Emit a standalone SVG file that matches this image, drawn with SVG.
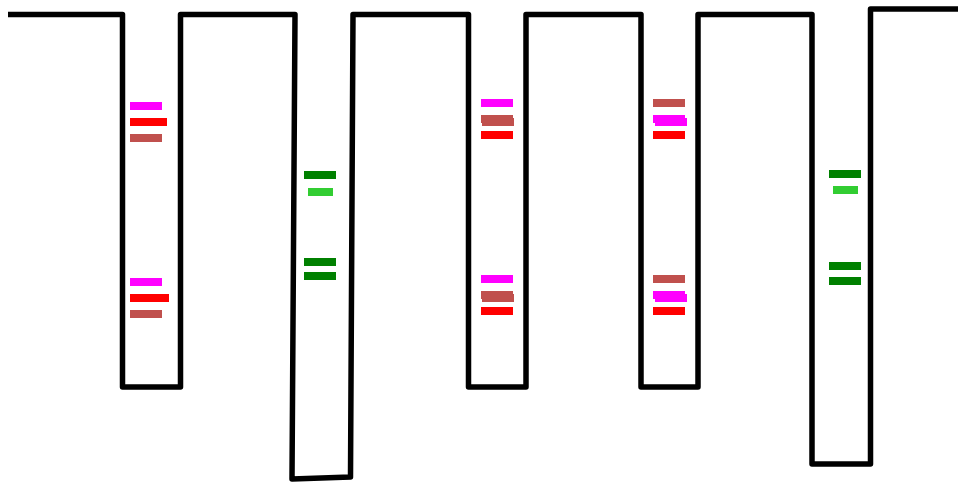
<svg xmlns="http://www.w3.org/2000/svg" width="958" height="482" viewBox="0 0 958 482">
<style>
.outline{fill:none;stroke:#000;stroke-width:5.5;stroke-linejoin:round}
.mg{fill:#FF00FF}.rd{fill:#FF0000}.br{fill:#C0504D}.dg{fill:#008000}.lg{fill:#32CD32}
</style>
<rect width="958" height="482" fill="#fff"/>
<g id="connectors">
<path class="outline" d="M8,14.5 H122.5 V387 H180.5 V14.5 H295 L292,479 L350.5,477 L353,14.5 H468.5 V387 H526 V14.5 H641 V387 H698 V14.5 H812 V464 H870.5 V9 H958"/>
</g>
<g id="well1">
<rect class="mg" x="130" y="102" width="32" height="8"/>
<rect class="rd" x="130" y="118" width="37" height="8"/>
<rect class="br" x="130" y="134" width="32" height="8"/>
<rect class="mg" x="130" y="278" width="32" height="8"/>
<rect class="rd" x="130" y="294" width="39" height="8"/>
<rect class="br" x="130" y="310" width="32" height="8"/>
</g>
<g id="well2">
<rect class="dg" x="304" y="171" width="32" height="8"/>
<rect class="lg" x="308" y="188" width="25" height="8"/>
<rect class="dg" x="304" y="258" width="32" height="8"/>
<rect class="dg" x="304" y="272" width="32" height="8"/>
</g>
<g id="well3">
<rect class="mg" x="481" y="99" width="32" height="8"/>
<rect class="br" x="481" y="115" width="32" height="8"/>
<rect class="br" x="482" y="118" width="32" height="8"/>
<rect class="rd" x="481" y="131" width="32" height="8"/>
<rect class="mg" x="481" y="275" width="32" height="8"/>
<rect class="br" x="481" y="291" width="32" height="8"/>
<rect class="br" x="482" y="294" width="32" height="8"/>
<rect class="rd" x="481" y="307" width="32" height="8"/>
</g>
<g id="well4">
<rect class="br" x="653" y="99" width="32" height="8"/>
<rect class="mg" x="653" y="115" width="32" height="8"/>
<rect class="mg" x="655" y="118" width="32" height="8"/>
<rect class="rd" x="653" y="131" width="32" height="8"/>
<rect class="br" x="653" y="275" width="32" height="8"/>
<rect class="mg" x="653" y="291" width="32" height="8"/>
<rect class="mg" x="655" y="294" width="32" height="8"/>
<rect class="rd" x="653" y="307" width="32" height="8"/>
</g>
<g id="well5">
<rect class="dg" x="829" y="170" width="32" height="8"/>
<rect class="lg" x="833" y="186" width="25" height="8"/>
<rect class="dg" x="829" y="262" width="32" height="8"/>
<rect class="dg" x="829" y="277" width="32" height="8"/>
</g>
</svg>
